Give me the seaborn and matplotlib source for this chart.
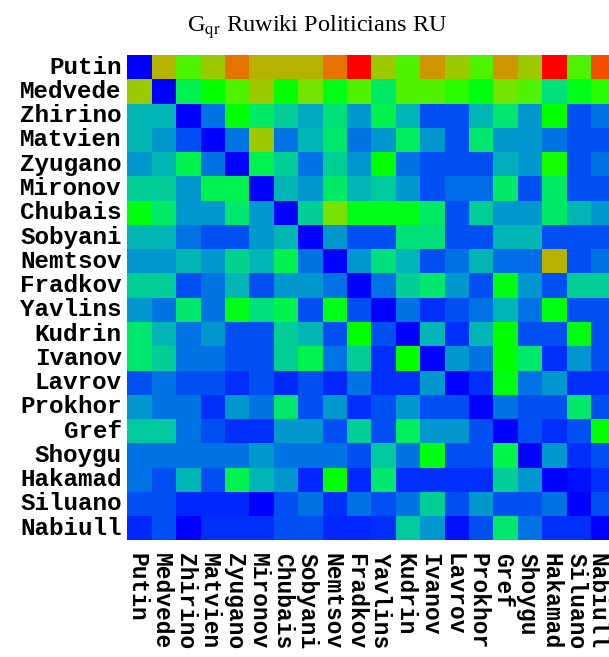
import numpy as np
import pandas as pd
import matplotlib
matplotlib.use("Agg")
import matplotlib.pyplot as plt
import matplotlib.transforms as mtransforms
import seaborn as sns
from matplotlib.colors import ListedColormap

names = ["Putin", "Medvede", "Zhirino", "Matvien", "Zyugano", "Mironov", "Chubais",
         "Sobyani", "Nemtsov", "Fradkov", "Yavlins", "Kudrin", "Ivanov", "Lavrov",
         "Prokhor", "Gref", "Shoygu", "Hakamad", "Siluano", "Nabiull"]

putin   = [0, .75, .60, .71, .85, .75, .75, .75, .85, 1.0, .71, .60, .80, .71, .60, .80, .71, 1.0, .60, .90]
medvede = [.71, 0, .40, .50, .60, .71, .50, .65, .47, .60, .37, .60, .60, .55, .48, .65, .60, .34, .47, .55]
zhirino = [.25, .25, 0, .15, .50, .37, .30, .23, .34, .20, .40, .25, .10, .10, .25, .36, .20, .50, .10, .15]
matvien = [.25, .20, .10, 0, .15, .71, .15, .25, .36, .15, .20, .38, .20, .10, .36, .20, .20, .15, .10, .10]
zyugano = [.20, .25, .40, .15, 0, .40, .30, .15, .30, .20, .50, .15, .10, .10, .10, .24, .20, .52, .10, .15]
mironov = [.30, .30, .20, .40, .40, 0, .25, .20, .37, .25, .29, .20, .10, .14, .14, .37, .10, .37, .10, .10]
chubais = [.48, .37, .20, .20, .36, .20, 0, .30, .66, .47, .47, .47, .37, .10, .30, .20, .20, .37, .25, .20]
sobyani = [.25, .25, .15, .10, .10, .20, .25, 0, .20, .10, .10, .34, .34, .10, .10, .25, .25, .10, .10, .10]
nemtsov = [.20, .20, .25, .20, .31, .25, .40, .15, 0, .20, .34, .25, .10, .15, .25, .14, .14, .75, .10, .15]
fradkov = [.30, .30, .10, .15, .25, .10, .20, .20, .15, 0, .15, .30, .36, .20, .10, .48, .20, .10, .30, .30]
yavlins = [.20, .15, .36, .15, .47, .34, .40, .10, .47, .10, 0, .15, .06, .10, .15, .25, .15, .48, .10, .10]
kudrin  = [.36, .25, .15, .20, .10, .10, .30, .25, .10, .50, .10, 0, .25, .06, .25, .50, .10, .10, .48, .10]
ivanov  = [.36, .30, .15, .15, .10, .10, .30, .40, .15, .30, .06, .50, 0, .20, .15, .50, .36, .06, .20, .10]
lavrov  = [.10, .15, .10, .10, .06, .10, .05, .10, .05, .15, .06, .06, .20, 0, .06, .48, .15, .20, .06, .06]
prokhor = [.20, .15, .15, .06, .20, .15, .36, .10, .20, .06, .10, .20, .10, .10, 0, .15, .10, .10, .36, .10]
gref    = [.29, .29, .15, .10, .06, .06, .20, .20, .10, .30, .10, .38, .20, .20, .10, 0, .10, .06, .10, .50]
shoygu  = [.15, .15, .15, .15, .15, .20, .15, .15, .15, .10, .29, .15, .48, .10, .10, .41, 0, .20, .06, .10]
hakamad = [.15, .10, .25, .10, .40, .25, .20, .05, .50, .05, .36, .06, .06, .06, .06, .30, .20, 0, .02, .06]
siluano = [.10, .10, .05, .05, .05, 0, .10, .15, .06, .15, .10, .15, .30, .10, .20, .10, .10, .15, 0, .10]
nabiull = [.05, .10, 0, .06, .06, .06, .10, .10, .05, .05, .06, .29, .20, .02, .10, .36, .15, .06, .06, 0]

rows = [putin, medvede, zhirino, matvien, zyugano, mironov, chubais, sobyani, nemtsov,
        fradkov, yavlins, kudrin, ivanov, lavrov, prokhor, gref, shoygu, hakamad, siluano, nabiull]
df = pd.DataFrame(rows, index=names, columns=names)

# blue -> green -> red colormap with constant-norm interpolation
tt = np.linspace(0, 1, 512)
cols = []
for t in tt:
    if t <= 0.5:
        s = t / 0.5 * np.pi / 2
        cols.append((0.0, np.sin(s), np.cos(s)))
    else:
        s = (t - 0.5) / 0.5 * np.pi / 2
        cols.append((np.sin(s), np.cos(s), 0.0))
cmap = ListedColormap(cols)

plt.rcParams['mathtext.fontset'] = 'stix'
fig = plt.figure(figsize=(6.09, 6.57), dpi=100)
ax = fig.add_axes([127.3 / 609, (657 - 540.4) / 657, 488 / 609, 485.4 / 657])
sns.heatmap(df, ax=ax, cmap=cmap, vmin=0, vmax=1, cbar=False)

ax.set_xticks(np.arange(len(names)) + 0.5)
ax.set_yticks(np.arange(len(names)) + 0.5)
xl = ax.set_xticklabels(names, rotation=270, family='Liberation Mono', weight='bold',
                        fontsize=16.5, va='top', ha='center')
ax.set_yticklabels(names, rotation=0, family='Liberation Mono', weight='bold',
                   fontsize=17.5, va='center', ha='right')
ax.tick_params(axis='both', length=0)
ax.tick_params(axis='x', pad=9)
ax.tick_params(axis='y', pad=4)
ax.set_xlabel('')
ax.set_ylabel('')

# nudge x labels slightly left so ink centres on cells
off = mtransforms.ScaledTranslation(-3 / 100, 0, fig.dpi_scale_trans)
for lab in ax.get_xticklabels():
    lab.set_transform(lab.get_transform() + off)

fig.text(317.5 / 609, (657 - 32) / 657, r'G$_{\mathrm{qr}}$ Ruwiki Politicians RU',
         family='Liberation Serif', fontsize=17.5, ha='center', va='baseline')

# keep last label inside the figure
fig.canvas.draw()
renderer = fig.canvas.get_renderer()
last = ax.get_xticklabels()[-1]
bb = last.get_window_extent(renderer)
W = fig.bbox.width
if bb.x1 > W - 1:
    extra = (bb.x1 - (W - 1)) / 100
    last.set_transform(last.get_transform() + mtransforms.ScaledTranslation(-extra, 0, fig.dpi_scale_trans))

fig.savefig('out.png', dpi=100)
